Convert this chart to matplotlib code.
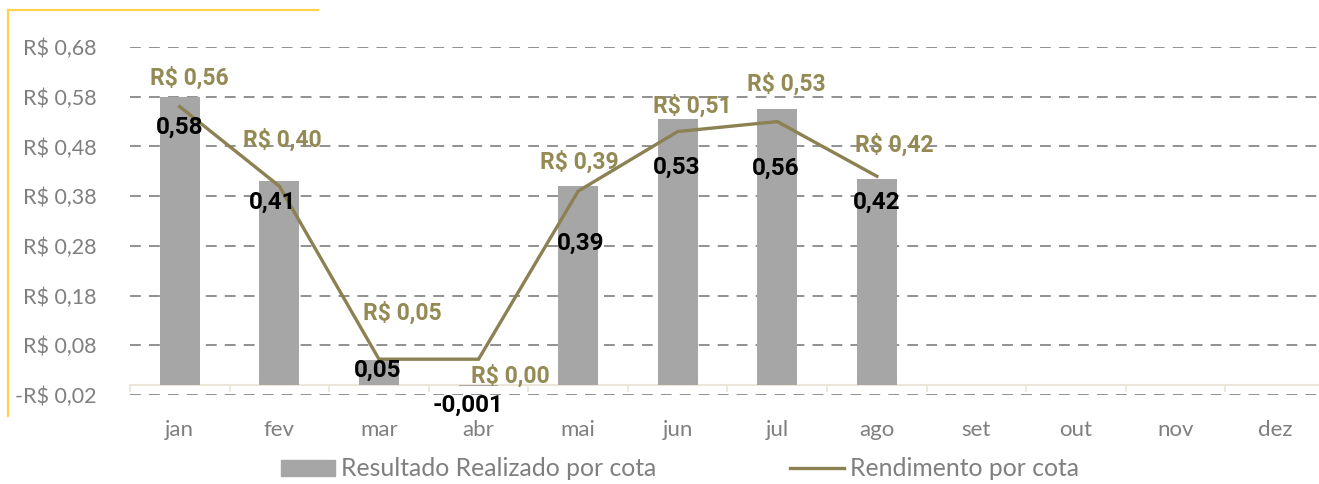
import matplotlib
matplotlib.use("Agg")
import matplotlib.pyplot as plt
from matplotlib.lines import Line2D
from matplotlib.patches import Patch
import numpy as np

meses = ["jan", "fev", "mar", "abr", "mai", "jun", "jul", "ago",
         "set", "out", "nov", "dez"]
resultado = [0.58, 0.41, 0.05, -0.001, 0.40, 0.535, 0.555, 0.415]
resultado_txt = ["0,58", "0,41", "0,05", "-0,001", "0,39", "0,53", "0,56", "0,42"]
rendimento = [0.56, 0.40, 0.052, 0.052, 0.39, 0.51, 0.53, 0.42]
rendimento_txt = ["R$ 0,56", "R$ 0,40", "R$ 0,05", "R$ 0,00",
                  "R$ 0,39", "R$ 0,51", "R$ 0,53", "R$ 0,42"]
yticks = [-0.02, 0.08, 0.18, 0.28, 0.38, 0.48, 0.58, 0.68]

# label offsets in pixels (manual placement like the original sheet)
bar_lbl_off = [(0, -31), (-7, -21), (-1, -10), (-10, -20), (2, -57),
               (-1, -48), (-2, -59), (0, -24)]
line_lbl_off = [(10, 28), (3, 46), (23, 46), (32, -17), (1, 29),
                (15, 25), (9, 37), (17, 31)]

GREY_TXT = "#7f7f7f"
BAR = "#a6a6a6"
OLIVE = "#8c8152"
OLIVE_TXT = "#948a54"
BOLD_FONT = ["Roboto", "DejaVu Sans"]

plt.rcParams["font.family"] = ["Lato", "DejaVu Sans"]

W, H = 1319, 484
fig = plt.figure(figsize=(W / 100, H / 100), dpi=100)
ax = fig.add_axes([130 / W, 1 - 395 / H, 1195 / W, 348 / H])

x = np.arange(len(meses))
xb = x[:len(resultado)]
ax.bar(xb, resultado, width=0.4, color=BAR, zorder=2)
ax.plot(xb, rendimento, color=OLIVE, lw=2.4, zorder=3, solid_joinstyle="miter")

for i, (v, t) in enumerate(zip(resultado, resultado_txt)):
    ax.annotate(t, (xb[i], v), xytext=bar_lbl_off[i], textcoords="offset pixels",
                ha="center", va="center", fontsize=17.5, fontweight="bold",
                color="black", family=BOLD_FONT, zorder=5, annotation_clip=False)
for i, (v, t) in enumerate(zip(rendimento, rendimento_txt)):
    ax.annotate(t, (xb[i], v), xytext=line_lbl_off[i], textcoords="offset pixels",
                ha="center", va="center", fontsize=16.5, fontweight="bold",
                color=OLIVE_TXT, family=BOLD_FONT, zorder=5, annotation_clip=False)

ax.set_xlim(-0.5, len(meses) - 0.5)
ax.set_ylim(-0.02, 0.68)
ax.set_yticks(yticks)
ax.set_yticklabels([("-R$ %.2f" % abs(v) if v < 0 else "R$ %.2f" % v).replace(".", ",")
                    for v in yticks])
ax.set_xticks(x)
ax.set_xticklabels(meses)
ax.tick_params(axis="y", length=0, pad=24, labelsize=15.5, labelcolor=GREY_TXT)
ax.tick_params(axis="x", length=0, pad=18, labelsize=16, labelcolor=GREY_TXT)

for y in yticks:
    ax.axhline(y, color="#888888", lw=1.3, ls=(0, (6, 4.5)), zorder=1)

# category axis at zero with boundary tick marks
ax.axhline(0, color="#ebe6d8", lw=1.5, zorder=1.5)
for b in np.arange(-0.5, len(meses), 1.0):
    ax.plot([b, b], [0, -0.012], color="#ebe6d8", lw=1.3, zorder=1.5, clip_on=False)

for s in ax.spines.values():
    s.set_visible(False)

# gold frame fragment
fig.add_artist(Line2D([8 / W, 318 / W], [1 - 10 / H, 1 - 10 / H], color="#ffd24a", lw=1.6))
fig.add_artist(Line2D([8 / W, 8 / W], [1 - 10 / H, 1 - 416 / H], color="#ffd24a", lw=1.6))

handles = [Patch(color=BAR), Line2D([], [], color=OLIVE, lw=2.4)]
fig.legend(handles, ["Resultado Realizado por cota", "Rendimento por cota"],
           loc="center", bbox_to_anchor=(680 / W, 1 - 469 / H), ncol=2, frameon=False,
           fontsize=17.8, labelcolor=GREY_TXT, handlelength=2.2, handleheight=0.6,
           handletextpad=0.25, columnspacing=5.4)

fig.savefig("out.png", dpi=100)
